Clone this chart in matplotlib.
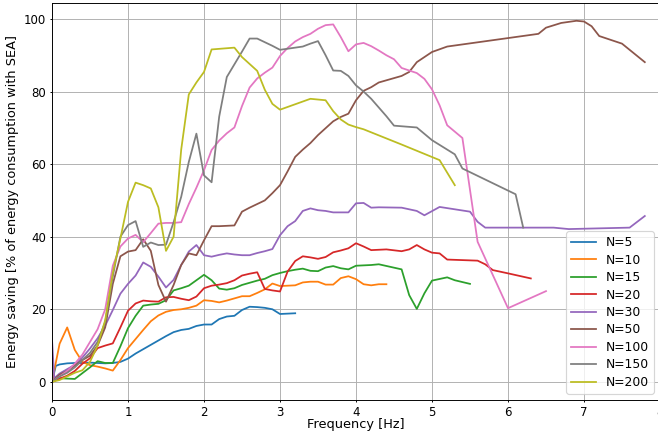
import matplotlib
matplotlib.use("Agg")
import matplotlib.pyplot as plt

# Frequency grids and energy-saving values for each population size N
f5 = [0, 0.05, 0.1, 0.2, 0.3, 0.4, 0.5, 0.6, 0.7, 0.8, 0.9, 1.0, 1.1, 1.2, 1.3, 1.4, 1.5, 1.6, 1.7, 1.8, 1.9,
      2.0, 2.1, 2.2, 2.3, 2.4, 2.5, 2.6, 2.7, 2.8, 2.9, 3.0, 3.1, 3.2]
s5 = [0, 4.4, 4.8, 5.1, 5.2, 5.2, 5.3, 5.2, 5.1, 5.2, 5.5, 6.4, 7.8, 9.0, 10.2, 11.4, 12.6, 13.7, 14.3, 14.6, 15.4,
      15.8, 15.8, 17.3, 18.0, 18.2, 19.8, 20.7, 20.6, 20.4, 20.0, 18.7, 18.8, 18.9]

f10 = [0, 0.1, 0.2, 0.3, 0.4, 0.5, 0.6, 0.7, 0.8, 0.9, 1.0, 1.1, 1.2, 1.3, 1.4, 1.5, 1.6, 1.7, 1.8, 1.9,
       2.0, 2.1, 2.2, 2.3, 2.4, 2.5, 2.6, 2.7, 2.8, 2.9, 3.0, 3.1, 3.2, 3.3, 3.4, 3.5, 3.6, 3.7, 3.8, 3.9,
       4.0, 4.1, 4.2, 4.3, 4.4]
s10 = [0, 10.5, 15.0, 8.8, 5.5, 4.6, 4.2, 3.7, 3.1, 6.0, 9.3, 11.8, 14.3, 16.7, 18.3, 19.3, 19.8, 20.0, 20.4, 21.0,
       22.5, 22.3, 21.9, 22.4, 23.0, 23.6, 23.6, 24.5, 25.5, 27.1, 26.4, 26.5, 26.6, 27.4, 27.6, 27.6, 26.8, 26.8, 28.6, 29.1,
       28.3, 26.9, 26.6, 26.9, 26.9]

f15 = [0, 0.1, 0.2, 0.3, 0.4, 0.5, 0.6, 0.7, 0.8, 0.9, 1.0, 1.1, 1.2, 1.3, 1.4, 1.5, 1.6, 1.7, 1.8, 1.9,
       2.0, 2.1, 2.2, 2.3, 2.4, 2.5, 2.6, 2.7, 2.8, 2.9, 3.0, 3.1, 3.2, 3.3, 3.4, 3.5, 3.6, 3.7, 3.8, 3.9,
       4.0, 4.2, 4.3, 4.6, 4.7, 4.8, 4.9, 5.0, 5.2, 5.3, 5.5]
s15 = [0, 1.0, 0.9, 0.8, 2.4, 4.0, 5.7, 5.2, 5.2, 9.8, 14.8, 18.2, 21.0, 21.3, 21.5, 22.5, 25.2, 25.8, 26.5, 28.0,
       29.5, 28.0, 25.7, 25.4, 25.8, 26.7, 27.3, 27.9, 28.4, 29.4, 30.0, 30.5, 30.9, 31.2, 30.6, 30.5, 31.5, 31.9, 31.3, 31.0,
       32.0, 32.2, 32.4, 31.0, 23.9, 20.1, 24.4, 27.9, 28.8, 28.0, 27.0]

f20 = [0, 0.1, 0.2, 0.3, 0.4, 0.5, 0.6, 0.7, 0.8, 0.9, 1.0, 1.1, 1.2, 1.3, 1.4, 1.5, 1.6, 1.7, 1.8, 1.9,
       2.0, 2.1, 2.2, 2.3, 2.4, 2.5, 2.6, 2.7, 2.8, 2.9, 3.0, 3.1, 3.2, 3.3, 3.4, 3.5, 3.6, 3.7, 3.8, 3.9,
       4.0, 4.1, 4.2, 4.4, 4.6, 4.7, 4.8, 4.9, 5.0, 5.1, 5.2, 5.6, 5.7, 5.8, 6.0, 6.3]
s20 = [0, 0.9, 1.7, 3.0, 5.0, 6.5, 9.3, 10.0, 10.6, 15.0, 19.6, 21.6, 22.4, 22.2, 22.1, 23.3, 23.4, 22.9, 22.5, 23.5,
       25.8, 26.5, 26.8, 27.2, 28.0, 29.3, 29.8, 30.2, 25.6, 25.2, 24.9, 30.4, 33.3, 34.6, 34.3, 33.9, 34.4, 35.7, 36.2, 36.8,
       38.2, 37.3, 36.3, 36.5, 36.0, 36.5, 37.7, 36.5, 35.6, 35.4, 33.7, 33.4, 32.4, 30.8, 29.9, 28.5]

f30 = [0, 0.03, 0.1, 0.2, 0.3, 0.4, 0.5, 0.6, 0.7, 0.8, 0.9, 1.0, 1.1, 1.2, 1.3, 1.4, 1.5, 1.6, 1.7, 1.8, 1.9,
       2.0, 2.1, 2.2, 2.3, 2.4, 2.5, 2.6, 2.7, 2.8, 2.9, 3.0, 3.1, 3.2, 3.3, 3.4, 3.5, 3.6, 3.7, 3.8, 3.9,
       4.0, 4.1, 4.2, 4.3, 4.6, 4.8, 4.9, 5.1, 5.5, 5.6, 5.7, 6.6, 6.8, 7.6, 7.8]
s30 = [11.7, 1.0, 2.3, 3.5, 4.7, 6.7, 9.2, 12.0, 15.5, 19.8, 24.3, 27.0, 29.3, 32.9, 31.7, 29.0, 26.0, 28.1, 32.2, 35.9, 37.7,
       34.9, 34.5, 35.0, 35.4, 35.1, 34.9, 34.9, 35.5, 36.0, 36.6, 40.4, 42.9, 44.3, 47.1, 47.8, 47.3, 47.1, 46.7, 46.7, 46.7,
       49.2, 49.3, 48.0, 48.1, 48.0, 47.1, 45.9, 48.2, 46.9, 44.1, 42.5, 42.5, 42.1, 42.5, 45.7]

f50 = [0, 0.1, 0.2, 0.3, 0.4, 0.5, 0.6, 0.7, 0.8, 0.9, 1.0, 1.1, 1.2, 1.3, 1.4, 1.5, 1.6, 1.7, 1.8, 1.9,
       2.0, 2.1, 2.2, 2.3, 2.4, 2.5, 2.6, 2.7, 2.8, 2.9, 3.0, 3.1, 3.2, 3.3, 3.4, 3.5, 3.6, 3.7, 3.8, 3.9,
       4.0, 4.1, 4.2, 4.3, 4.6, 4.7, 4.8, 4.9, 5.0, 5.2, 6.4, 6.5, 6.7, 6.9, 7.0, 7.1, 7.2, 7.5, 7.8]
s50 = [0, 2.0, 3.0, 4.5, 6.0, 7.2, 10.0, 15.0, 27.0, 34.6, 35.9, 36.3, 39.3, 36.1, 26.7, 22.1, 26.7, 32.2, 35.4, 34.9,
       39.0, 42.9, 42.9, 43.0, 43.1, 46.9, 48.0, 49.0, 50.0, 52.0, 54.2, 58.0, 62.0, 64.0, 65.8, 68.0, 69.9, 71.8, 73.0, 73.9,
       77.6, 80.2, 81.2, 82.5, 84.3, 85.4, 88.1, 89.5, 90.9, 92.4, 95.9, 97.6, 98.9, 99.5, 99.3, 98.0, 95.3, 93.2, 88.1]

f100 = [0, 0.1, 0.2, 0.3, 0.4, 0.5, 0.6, 0.7, 0.8, 0.9, 1.0, 1.1, 1.2, 1.3, 1.4, 1.5, 1.6, 1.7, 1.8, 1.9,
        2.0, 2.1, 2.2, 2.3, 2.4, 2.5, 2.6, 2.7, 2.8, 2.9, 3.0, 3.1, 3.2, 3.3, 3.4, 3.5, 3.6, 3.7, 3.8, 3.9,
        4.0, 4.1, 4.2, 4.3, 4.4, 4.5, 4.6, 4.7, 4.8, 4.9, 5.0, 5.1, 5.2, 5.4, 5.6, 6.0, 6.5]
s100 = [0, 1.5, 3.0, 5.0, 7.5, 11.0, 14.5, 20.0, 32.0, 37.3, 39.5, 40.5, 38.5, 41.0, 43.6, 43.8, 43.8, 44.0, 49.0, 53.5,
        58.3, 63.9, 66.5, 68.5, 70.1, 76.0, 81.1, 83.6, 85.2, 86.6, 89.8, 92.0, 93.8, 95.0, 95.9, 97.3, 98.3, 98.5, 95.0, 91.1,
        93.0, 93.4, 92.5, 91.3, 90.0, 88.9, 86.5, 85.8, 85.1, 83.5, 80.6, 76.2, 70.7, 67.2, 38.6, 20.3, 25.0]

f150 = [0, 0.1, 0.2, 0.3, 0.4, 0.5, 0.6, 0.7, 0.8, 0.9, 1.0, 1.1, 1.2, 1.3, 1.4, 1.5, 1.6, 1.7, 1.8, 1.9,
        2.0, 2.1, 2.2, 2.3, 2.4, 2.5, 2.6, 2.7, 2.8, 2.9, 3.0, 3.1, 3.2, 3.3, 3.4, 3.5, 3.6, 3.7, 3.8, 3.9,
        4.0, 4.1, 4.2, 4.3, 4.4, 4.5, 4.8, 5.0, 5.3, 5.4, 6.1, 6.2]
s150 = [0, 1.5, 2.5, 4.0, 6.0, 8.0, 11.0, 16.5, 29.0, 40.0, 43.2, 44.3, 37.2, 38.4, 37.7, 37.8, 44.0, 51.0, 60.6, 68.4,
        56.9, 55.0, 73.1, 84.0, 87.5, 91.0, 94.6, 94.6, 93.6, 92.6, 91.5, 91.8, 92.1, 92.4, 93.2, 93.9, 90.0, 85.8, 85.7, 84.3,
        81.7, 80.0, 78.0, 75.6, 73.2, 70.6, 70.1, 66.6, 62.7, 58.8, 51.7, 42.5]

f200 = [0, 0.1, 0.2, 0.3, 0.4, 0.5, 0.6, 0.7, 0.8, 0.9, 1.0, 1.1, 1.2, 1.3, 1.4, 1.5, 1.6, 1.7, 1.8, 1.9,
        2.0, 2.1, 2.4, 2.5, 2.6, 2.7, 2.8, 2.9, 3.0, 3.4, 3.6, 3.7, 3.8, 3.9, 4.0, 4.1, 4.6, 5.1, 5.3]
s200 = [0, 0.5, 1.5, 2.5, 3.2, 5.5, 10.0, 17.0, 30.0, 39.5, 49.6, 54.9, 54.2, 53.3, 48.1, 36.1, 40.0, 64.0, 79.2, 82.5,
        85.4, 91.6, 92.1, 89.5, 87.6, 85.7, 80.5, 76.6, 75.0, 78.0, 77.6, 74.6, 72.3, 70.9, 70.2, 69.6, 65.4, 61.1, 54.2]

labels = ["N=5", "N=10", "N=15", "N=20", "N=30", "N=50", "N=100", "N=150", "N=200"]
freqs = [f5, f10, f15, f20, f30, f50, f100, f150, f200]
savings = [s5, s10, s15, s20, s30, s50, s100, s150, s200]

# Render at 85 dpi so text, ticks and lines come out a bit smaller on the 658x436 canvas
DPI = 85
W, H = 658, 436
fig = plt.figure(figsize=(W / DPI, H / DPI), dpi=DPI)
ax_h = 397
ax = fig.add_axes([52 / W, 36 / H, 608 / W, ax_h / H])

for f, s, lab in zip(freqs, savings, labels):
    ax.plot(f, s, label=lab)

ax.set_xlim(0, 8)
ax.set_ylim(-5, 104.4)
ax.grid(True)
ax.tick_params(length=2.0, pad=3.0)

ax.set_xlabel("Frequency [Hz]", va="center", fontsize=10.9)
ax.xaxis.set_label_coords(0.5, -24 / ax_h)
ax.set_ylabel("Energy saving [% of energy consumption with SEA]", va="center", fontsize=10.9)
ax.yaxis.set_label_coords(-39 / 608, 0.5)

ax.legend(loc="lower right", fontsize=10.5, labelspacing=0.36)

fig.savefig("out.png", dpi=DPI)
